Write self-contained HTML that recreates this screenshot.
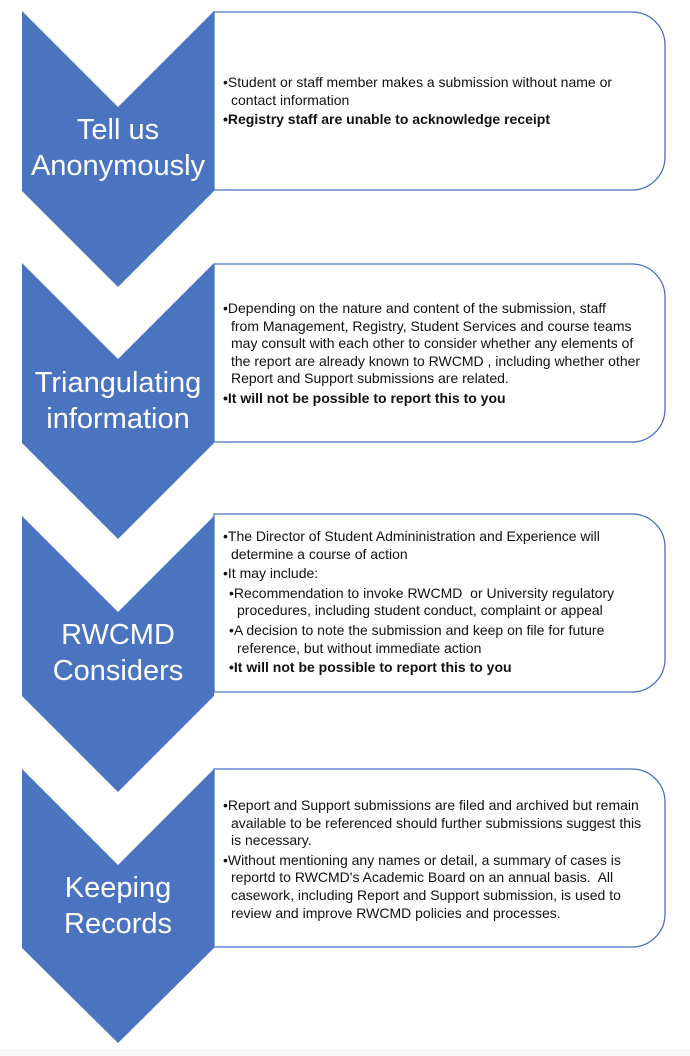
<!DOCTYPE html>
<html><head><meta charset="utf-8"><style>
body{margin:0;width:690px;height:1056px;background:#fff;position:relative;overflow:hidden;font-family:"Liberation Sans",Arial,sans-serif}
svg{position:absolute;left:0;top:0}
.t{position:absolute;font-size:14px;line-height:17.6px;color:#111;white-space:nowrap}
.t p{margin:0 0 2px 0;padding-left:8px;text-indent:-8px}
.t p.s{margin-left:6px}
.b{font-weight:bold}
.lab{position:absolute;left:22px;width:192px;text-align:center;color:#fff;font-size:29px;line-height:36px}
</style></head><body>
<svg width="690" height="1056">
<g fill="#fff" stroke="#4472c4" stroke-width="1.3">
<path d="M214 12 H632 A33 33 0 0 1 665 45 V157 A33 33 0 0 1 632 190 H214 Z"/>
<path d="M214 264 H632 A33 33 0 0 1 665 297 V409 A33 33 0 0 1 632 442 H214 Z"/>
<path d="M214 514 H632 A33 33 0 0 1 665 547 V659 A33 33 0 0 1 632 692 H214 Z"/>
<path d="M214 769 H632 A33 33 0 0 1 665 802 V914 A33 33 0 0 1 632 947 H214 Z"/>
</g>
<g fill="#4a74bf">
<path d="M22 11 L118 107 L214 11 V191 L118 287 L22 191 Z"/>
<path d="M22 263 L118 359 L214 263 V443 L118 539 L22 443 Z"/>
<path d="M22 516 L118 612 L214 516 V696 L118 792 L22 696 Z"/>
<path d="M22 769 L118 865 L214 769 V948 L118 1043 L22 948 Z"/>
</g>
<rect x="0" y="1049" width="690" height="7" fill="#f7f7f7"/>
</svg>
<div class="lab" style="top:112px">Tell us<br>Anonymously</div>
<div class="lab" style="top:365px">Triangulating<br>information</div>
<div class="lab" style="top:617px">RWCMD<br>Considers</div>
<div class="lab" style="top:870px">Keeping<br>Records</div>

<div class="t" style="left:223px;top:74px">
<p>•Student or staff member makes a submission without name or<br>contact information</p>
<p class="b">•Registry staff are unable to acknowledge receipt</p>
</div>
<div class="t" style="left:223px;top:300px">
<p>•Depending on the nature and content of the submission, staff<br>from Management, Registry, Student Services and course teams<br>may consult with each other to consider whether any elements of<br>the report are already known to RWCMD , including whether other<br>Report and Support submissions are related.</p>
<p class="b">•It will not be possible to report this to you</p>
</div>
<div class="t" style="left:223px;top:528px">
<p>•The Director of Student Admininistration and Experience will<br>determine a course of action</p>
<p>•It may include:</p>
<p class="s">•Recommendation to invoke RWCMD&nbsp; or University regulatory<br>procedures, including student conduct, complaint or appeal</p>
<p class="s">•A decision to note the submission and keep on file for future<br>reference, but without immediate action</p>
<p class="s b">•It will not be possible to report this to you</p>
</div>
<div class="t" style="left:223px;top:797px">
<p>•Report and Support submissions are filed and archived but remain<br>available to be referenced should further submissions suggest this<br>is necessary.</p>
<p>•Without mentioning any names or detail, a summary of cases is<br>reportd to RWCMD's Academic Board on an annual basis.&nbsp; All<br>casework, including Report and Support submission, is used to<br>review and improve RWCMD policies and processes.</p>
</div>
</body></html>
